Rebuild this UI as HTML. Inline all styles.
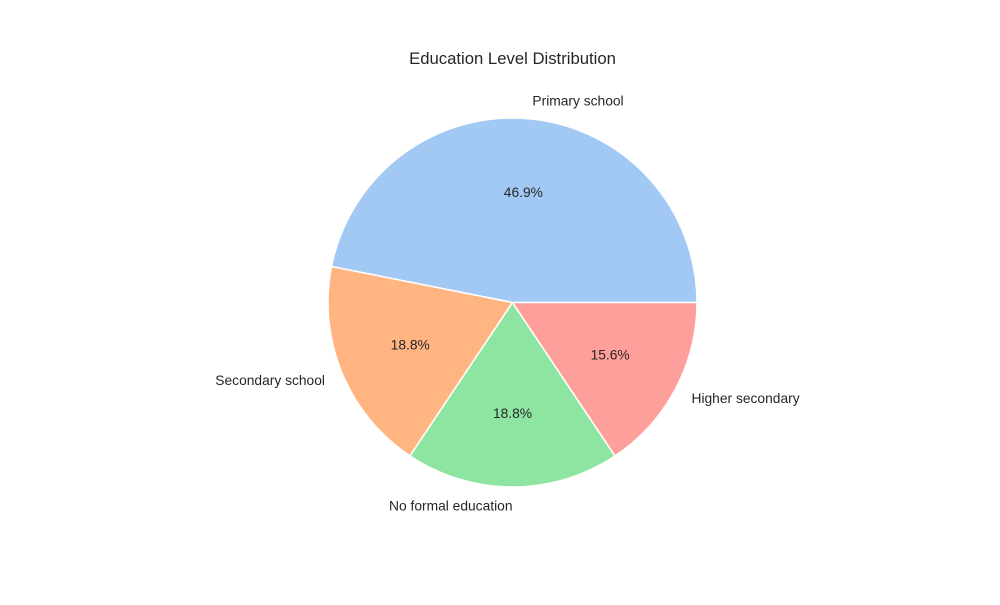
<!DOCTYPE html>
<html><head><meta charset="utf-8"><style>
body{margin:0;background:#fff;}
svg text{font-family:"Liberation Sans",Arial,sans-serif;fill:#262626;}
</style></head><body>
<svg width="1000" height="600" viewBox="0 0 1000 600">
<rect width="1000" height="600" fill="#fff"/>
<text x="512.5" y="64" font-size="16.7" text-anchor="middle">Education Level Distribution</text>
<g id="pie"></g>
</svg>
<script>
const categories = ["Primary school", "Secondary school", "No formal education", "Higher secondary"];
const values = [15, 6, 6, 5];
const colors = ["#a1c9f4", "#ffb482", "#8de5a1", "#ff9f9b"];
const cx = 512.5, cy = 302.5, r = 184.5;
const g = document.getElementById('pie');
const NS = 'http://www.w3.org/2000/svg';
const total = values.reduce((a, b) => a + b, 0);
let ang = 0;
function pt(a, rr) { return [cx + rr * Math.cos(a * Math.PI / 180), cy - rr * Math.sin(a * Math.PI / 180)]; }
values.forEach((v, i) => {
  const sweep = v / total * 360;
  const a0 = ang, a1 = ang + sweep;
  const p0 = pt(a0, r), p1 = pt(a1, r);
  const path = document.createElementNS(NS, 'path');
  path.setAttribute('d', `M${cx},${cy} L${p0[0]},${p0[1]} A${r},${r} 0 ${sweep > 180 ? 1 : 0} 0 ${p1[0]},${p1[1]} Z`);
  path.setAttribute('fill', colors[i]);
  path.setAttribute('stroke', '#fff');
  path.setAttribute('stroke-width', '1.5');
  path.setAttribute('stroke-linejoin', 'round');
  
  
  g.appendChild(path);
  const mid = (a0 + a1) / 2;
  const lp = pt(mid, r * 1.1);
  const t = document.createElementNS(NS, 'text');
  t.setAttribute('x', lp[0]);
  t.setAttribute('y', lp[1] + 4.8);
  t.setAttribute('font-size', '13.8');
  t.setAttribute('text-anchor', Math.cos(mid * Math.PI / 180) > 0 ? 'start' : 'end');
  t.textContent = categories[i];
  
  
  g.appendChild(t);
  const pp = pt(mid, r * 0.6);
  const pc = document.createElementNS(NS, 'text');
  pc.setAttribute('x', pp[0]);
  pc.setAttribute('y', pp[1] + 4.8);
  pc.setAttribute('font-size', '13.8');
  pc.setAttribute('text-anchor', 'middle');
  pc.textContent = (v / total * 100).toFixed(1) + '%';
  
  
  g.appendChild(pc);
  ang = a1;
});
</script>
</body></html>
